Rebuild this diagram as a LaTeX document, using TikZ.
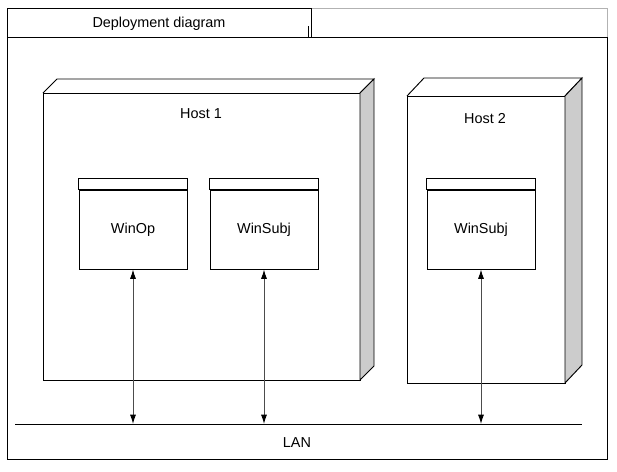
\documentclass[tikz,border=0pt]{standalone}
\usepackage{fontspec}
\setmainfont{Liberation Sans}
\usetikzlibrary{arrows.meta}
\begin{document}
\begin{tikzpicture}[x=0.03cm, y=-0.03cm, line width=0.8pt,
		every node/.style={font=\fontsize{12.3}{14}\selectfont},
		win/.style={draw, minimum width=3.24cm, minimum height=2.37cm, inner sep=0pt},
		link/.style={black!70, {Latex[length=2.8mm,width=1.8mm,color=black]}-{Latex[length=2.8mm,width=1.8mm,color=black]}}]
			\useasboundingbox (0,0) rectangle (617,471);
			% frame and tab
			\draw [black!30] (311,8) -- (607,8) -- (607,37);
			\draw (7,8) rectangle (311,37);
			\draw (308,26) -- (308,37);
			\draw (7,37) rectangle (607,459);
			\node (title) at (159,24) {Deployment diagram};
			% host 1
			\draw (43,93) rectangle (360,380);
			\draw (43,93) -- (57,79) -- (374,79) -- (360,93);
			\draw [fill=black!20] (360,93) -- (374,79) -- (374,366) -- (360,380) -- cycle;
			\node (host1) at (201,114) {Host 1};
			% host 2
			\draw (407,96) rectangle (565,383);
			\draw (407,96) -- (424,78) -- (582,78) -- (565,96);
			\draw [fill=black!20] (565,96) -- (582,78) -- (582,365) -- (565,383) -- cycle;
			\node (host2) at (485,119) {Host 2};
			% windows
			\node [win] (winop) at (133,229.5) {WinOp};
			\node [win] (winsubjA) at (264,229.5) {WinSubj};
			\node [win] (winsubjB) at (481,229.5) {WinSubj};
			\foreach \w in {winop,winsubjA,winsubjB}
				\draw (\w.north west) rectangle ([yshift=0.33cm]\w.north east);
			% LAN
			\coordinate (lanL) at (15,424);
			\coordinate (lanR) at (582,424);
			\draw (lanL) -- (lanR);
			\node (lan) at (297,443) {LAN};
			\foreach \w in {winop,winsubjA,winsubjB}
				\draw [link] (\w.south) -- (\w.south |- lanL);
		\end{tikzpicture}
\end{document}
